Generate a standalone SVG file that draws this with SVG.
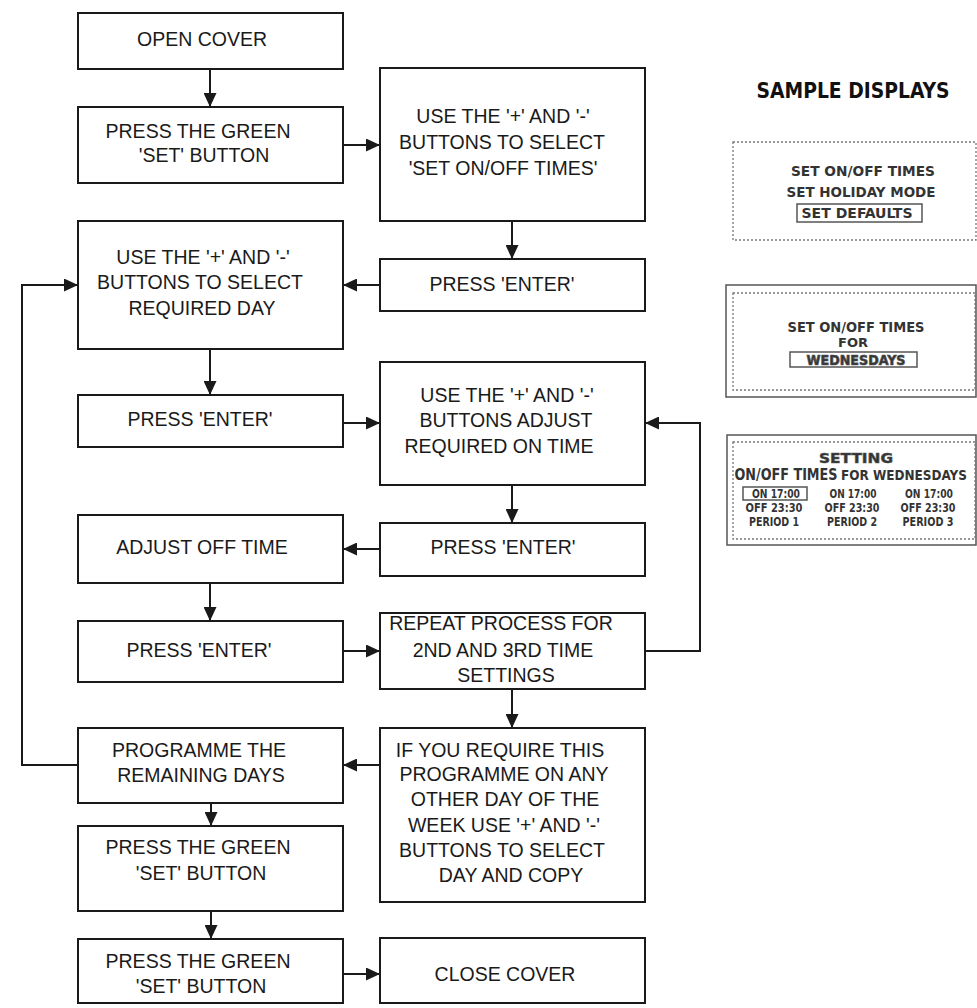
<svg xmlns="http://www.w3.org/2000/svg" width="977" height="1008" viewBox="0 0 977 1008">
<style>
.box{fill:#fff;stroke:#1a1a1a;stroke-width:2}
.t{font-family:"Liberation Sans",Arial,sans-serif;font-size:19.5px;fill:#1a1a1a;text-anchor:middle}
.c{fill:none;stroke:#1a1a1a;stroke-width:2}
.d{font-family:"DejaVu Sans Condensed","Liberation Sans",Arial,sans-serif;font-weight:bold;fill:#333;text-anchor:middle}
.dot{fill:none;stroke:#777;stroke-width:1.3;stroke-dasharray:2 2}
.sol{fill:none;stroke:#555;stroke-width:1.5}
</style>
<defs>
<marker id="ah" markerUnits="userSpaceOnUse" markerWidth="14" markerHeight="13" refX="14" refY="6.5" orient="auto">
<path d="M0,0 L14,6.5 L0,13 z" fill="#1a1a1a"/>
</marker>
</defs>
<rect width="977" height="1008" fill="#fff"/>

<g id="connectors">
<line class="c" x1="210" y1="69" x2="210" y2="107" marker-end="url(#ah)"/>
<line class="c" x1="343" y1="145" x2="380" y2="145" marker-end="url(#ah)"/>
<line class="c" x1="512" y1="221" x2="512" y2="259" marker-end="url(#ah)"/>
<line class="c" x1="380" y1="285" x2="343" y2="285" marker-end="url(#ah)"/>
<line class="c" x1="210" y1="349" x2="210" y2="395" marker-end="url(#ah)"/>
<line class="c" x1="343" y1="423" x2="380" y2="423" marker-end="url(#ah)"/>
<line class="c" x1="512" y1="485" x2="512" y2="523" marker-end="url(#ah)"/>
<line class="c" x1="380" y1="549" x2="343" y2="549" marker-end="url(#ah)"/>
<line class="c" x1="210" y1="583" x2="210" y2="621" marker-end="url(#ah)"/>
<line class="c" x1="343" y1="651" x2="380" y2="651" marker-end="url(#ah)"/>
<path class="c" d="M645,651 H700 V423 H645" marker-end="url(#ah)"/>
<line class="c" x1="512" y1="689" x2="512" y2="728" marker-end="url(#ah)"/>
<line class="c" x1="380" y1="765" x2="343" y2="765" marker-end="url(#ah)"/>
<path class="c" d="M78,765 H22 V285 H78" marker-end="url(#ah)"/>
<line class="c" x1="211" y1="803" x2="211" y2="826" marker-end="url(#ah)"/>
<line class="c" x1="211" y1="911" x2="211" y2="939" marker-end="url(#ah)"/>
<line class="c" x1="343" y1="974" x2="380" y2="974" marker-end="url(#ah)"/>
</g>

<g id="n1"><rect class="box" x="78" y="13" width="265" height="56"/>
<text class="t" x="202" y="46">OPEN COVER</text></g>

<g id="n2"><rect class="box" x="78" y="107" width="265" height="76"/>
<text class="t" x="198" y="138">PRESS THE GREEN</text>
<text class="t" x="204" y="162">'SET' BUTTON</text></g>

<g id="n3"><rect class="box" x="380" y="68" width="265" height="153"/>
<text class="t" x="503" y="123">USE THE '+' AND '-'</text>
<text class="t" x="502" y="149">BUTTONS TO SELECT</text>
<text class="t" x="503" y="175">'SET ON/OFF TIMES'</text></g>

<g id="n4"><rect class="box" x="380" y="259" width="265" height="52"/>
<text class="t" x="502" y="291">PRESS 'ENTER'</text></g>

<g id="n5"><rect class="box" x="78" y="221" width="265" height="128"/>
<text class="t" x="203" y="264">USE THE '+' AND '-'</text>
<text class="t" x="200" y="289">BUTTONS TO SELECT</text>
<text class="t" x="202" y="315">REQUIRED DAY</text></g>

<g id="n6"><rect class="box" x="78" y="395" width="265" height="52"/>
<text class="t" x="200" y="426">PRESS 'ENTER'</text></g>

<g id="n7"><rect class="box" x="380" y="362" width="265" height="123"/>
<text class="t" x="507" y="402">USE THE '+' AND '-'</text>
<text class="t" x="506" y="427">BUTTONS ADJUST</text>
<text class="t" x="499" y="453">REQUIRED ON TIME</text></g>

<g id="n8"><rect class="box" x="380" y="523" width="265" height="53"/>
<text class="t" x="503" y="554">PRESS 'ENTER'</text></g>

<g id="n9"><rect class="box" x="78" y="515" width="265" height="68"/>
<text class="t" x="202" y="554">ADJUST OFF TIME</text></g>

<g id="n10"><rect class="box" x="78" y="621" width="265" height="61"/>
<text class="t" x="199" y="657">PRESS 'ENTER'</text></g>

<g id="n11"><rect class="box" x="380" y="613" width="265" height="76"/>
<text class="t" x="501" y="630">REPEAT PROCESS FOR</text>
<text class="t" x="503" y="657">2ND AND 3RD TIME</text>
<text class="t" x="506" y="682">SETTINGS</text></g>

<g id="n12"><rect class="box" x="78" y="728" width="265" height="75"/>
<text class="t" x="199" y="757">PROGRAMME THE</text>
<text class="t" x="201" y="782">REMAINING DAYS</text></g>

<g id="n13"><rect class="box" x="380" y="728" width="265" height="174"/>
<text class="t" x="500" y="757">IF YOU REQUIRE THIS</text>
<text class="t" x="504" y="781">PROGRAMME ON ANY</text>
<text class="t" x="505" y="806">OTHER DAY OF THE</text>
<text class="t" x="504" y="832">WEEK USE '+' AND '-'</text>
<text class="t" x="502" y="857">BUTTONS TO SELECT</text>
<text class="t" x="511" y="882">DAY AND COPY</text></g>

<g id="n14"><rect class="box" x="78" y="826" width="265" height="85"/>
<text class="t" x="198" y="854">PRESS THE GREEN</text>
<text class="t" x="201" y="880">'SET' BUTTON</text></g>

<g id="n15"><rect class="box" x="78" y="939" width="265" height="64"/>
<text class="t" x="198" y="968">PRESS THE GREEN</text>
<text class="t" x="201" y="993">'SET' BUTTON</text></g>

<g id="n16"><rect class="box" x="380" y="938" width="265" height="65"/>
<text class="t" x="505" y="981">CLOSE COVER</text></g>

<g id="sample-displays">
<text x="853" y="98" font-family="'DejaVu Sans Condensed','DejaVu Sans',sans-serif" font-weight="bold" font-size="22" fill="#111" text-anchor="middle" textLength="193" lengthAdjust="spacingAndGlyphs">SAMPLE DISPLAYS</text>

<g id="display1">
<rect class="dot" x="733" y="142" width="243" height="98"/>
<text class="d" font-size="14" x="863" y="176" textLength="144" lengthAdjust="spacingAndGlyphs">SET ON/OFF TIMES</text>
<text class="d" font-size="14" x="861" y="197" textLength="149" lengthAdjust="spacingAndGlyphs">SET HOLIDAY MODE</text>
<rect class="sol" x="797" y="204" width="125" height="18"/>
<text class="d" font-size="14" x="857" y="218" textLength="111" lengthAdjust="spacingAndGlyphs">SET DEFAULTS</text>
</g>

<g id="display2">
<rect class="sol" x="726" y="285" width="250" height="112"/>
<rect class="dot" x="733" y="293" width="242" height="97"/>
<text class="d" font-size="14" x="856" y="332" textLength="137" lengthAdjust="spacingAndGlyphs">SET ON/OFF  TIMES</text>
<text class="d" font-size="13" x="853" y="347" textLength="30" lengthAdjust="spacingAndGlyphs">FOR</text>
<rect class="sol" x="790" y="352" width="127" height="15"/>
<text class="d" font-size="14" x="856" y="365" textLength="99" lengthAdjust="spacingAndGlyphs" fill="#ccc" stroke="#555" stroke-width="0.7">WEDNESDAYS</text>
</g>

<g id="display3">
<rect class="sol" x="727" y="435" width="249" height="110"/>
<rect class="dot" x="733" y="442" width="242" height="97"/>
<text class="d" font-size="14" x="856" y="463" textLength="74" lengthAdjust="spacingAndGlyphs" fill="#888" stroke="#555" stroke-width="0.5">SETTING</text>
<text class="d" font-size="15" x="786" y="480" textLength="103" lengthAdjust="spacingAndGlyphs">ON/OFF  TIMES</text>
<text class="d" font-size="13.5" x="904" y="480" textLength="126" lengthAdjust="spacingAndGlyphs" fill="#666">FOR  WEDNESDAYS</text>
<rect class="sol" x="743" y="487" width="64" height="13"/>
<text class="d" font-size="12.5" x="776" y="498" textLength="48" lengthAdjust="spacingAndGlyphs">ON  17:00</text>
<text class="d" font-size="12.5" x="853" y="498" textLength="47" lengthAdjust="spacingAndGlyphs">ON  17:00</text>
<text class="d" font-size="12.5" x="929" y="498" textLength="48" lengthAdjust="spacingAndGlyphs">ON  17:00</text>
<text class="d" font-size="12.5" x="774" y="512" textLength="57" lengthAdjust="spacingAndGlyphs">OFF  23:30</text>
<text class="d" font-size="12.5" x="852" y="512" textLength="55" lengthAdjust="spacingAndGlyphs">OFF  23:30</text>
<text class="d" font-size="12.5" x="928" y="512" textLength="55" lengthAdjust="spacingAndGlyphs">OFF  23:30</text>
<text class="d" font-size="12.5" x="774" y="526" textLength="50" lengthAdjust="spacingAndGlyphs">PERIOD  1</text>
<text class="d" font-size="12.5" x="852" y="526" textLength="50" lengthAdjust="spacingAndGlyphs">PERIOD  2</text>
<text class="d" font-size="12.5" x="928" y="526" textLength="51" lengthAdjust="spacingAndGlyphs">PERIOD  3</text>
</g>
</g>
</svg>
